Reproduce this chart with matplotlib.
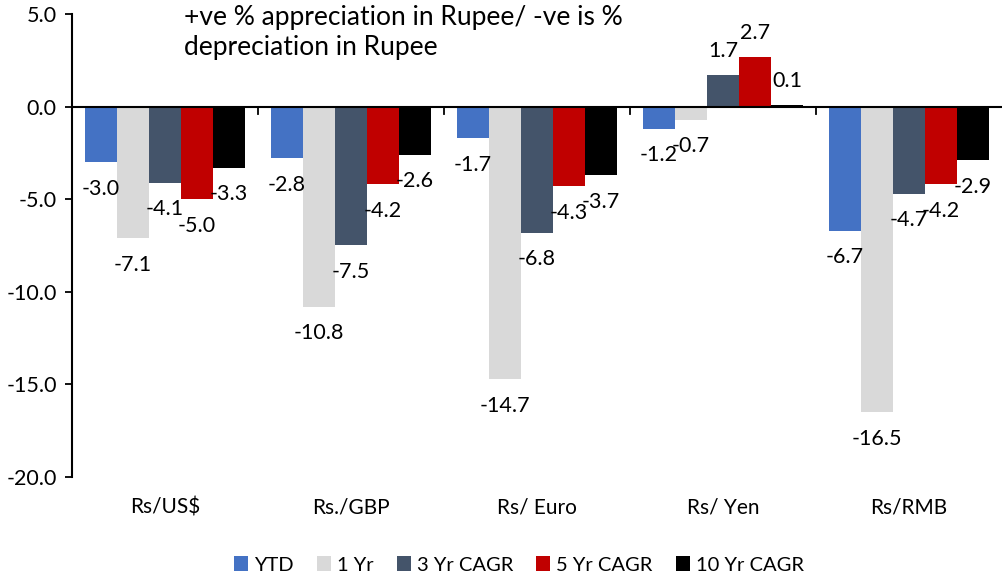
import matplotlib
matplotlib.use("Agg")
import matplotlib.pyplot as plt
import numpy as np

plt.rcParams['font.family'] = ['Lato', 'DejaVu Sans']

categories = ["Rs/US$", "Rs./GBP", "Rs/ Euro", "Rs/ Yen", "Rs/RMB"]
series_names = ["YTD", "1 Yr", "3 Yr CAGR", "5 Yr CAGR", "10 Yr CAGR"]
ytd = [-3.0, -2.8, -1.7, -1.2, -6.7]
yr1 = [-7.1, -10.8, -14.7, -0.7, -16.5]
yr3 = [-4.1, -7.5, -6.8, 1.7, -4.7]
yr5 = [-5.0, -4.2, -4.3, 2.7, -4.2]
yr10 = [-3.3, -2.6, -3.7, 0.1, -2.9]
yticks = [-20, -15, -10, -5, 0, 5]
colors = ["#4472C4", "#D9D9D9", "#44546A", "#C00000", "#000000"]

series = [ytd, yr1, yr3, yr5, yr10]

fig = plt.figure(figsize=(10.07, 5.8), dpi=100)
ax = fig.add_axes([72/1007, 1-477/580, (1002-72)/1007, (477-14)/580])

x = np.arange(len(categories))
w = 0.172
for i, (vals, c, name) in enumerate(zip(series, colors, series_names)):
    pos = x + (i - 2) * w
    bars = ax.bar(pos, vals, width=w, color=c, label=name, zorder=2)
    for b, v in zip(bars, vals):
        if v < 0:
            ax.annotate(f"{v:.1f}", (b.get_x() + b.get_width()/2, v),
                        xytext=(0, -12), textcoords="offset points",
                        ha="center", va="top", fontsize=15.5)
        else:
            ax.annotate(f"{v:.1f}", (b.get_x() + b.get_width()/2, v),
                        xytext=(0, 10), textcoords="offset points",
                        ha="center", va="bottom", fontsize=15.5)

ax.set_xlim(-0.5, len(categories) - 0.5)
ax.set_ylim(-20, 5)
ax.set_yticks(yticks)
ax.set_yticklabels([f"{t:.1f}" for t in yticks], fontsize=15.5)
ax.tick_params(axis='y', length=5, width=1.3, pad=6, direction='out')
ax.set_xticks(x)
ax.set_xticklabels(categories, fontsize=15)
ax.tick_params(axis='x', length=0, pad=15)

for s in ["top", "right", "bottom"]:
    ax.spines[s].set_visible(False)
ax.spines["left"].set_linewidth(1.5)
ax.axhline(0, color="black", lw=1.5, zorder=3)
for b in np.arange(0.5, len(categories) - 0.5, 1.0):
    ax.plot([b, b], [0, -0.42], color="black", lw=1.3, zorder=3)

fig.text(184/1007, 1-33/580, "+ve % appreciation in Rupee/ -ve is %\ndepreciation in Rupee",
         fontsize=19, ha="left", va="center", linespacing=1.25)

leg = fig.legend(loc="center", bbox_to_anchor=(519/1007, 1-565/580), ncol=5, frameon=False,
                 fontsize=14.5, handlelength=0.7, handleheight=0.7, handletextpad=0.3,
                 columnspacing=1.15)

fig.savefig("out.png", dpi=100)
